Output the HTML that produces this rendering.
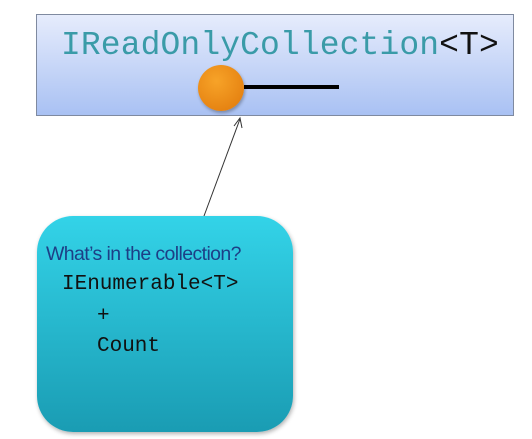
<!DOCTYPE html>
<html><head><style>
body{margin:0;width:532px;height:439px;background:#fff;position:relative;overflow:hidden;font-family:"Liberation Sans",sans-serif}
.top{position:absolute;left:36px;top:14px;width:478px;height:102px;border:1px solid #7f8aa0;background:linear-gradient(#e6ecfc,#a9c1f3);box-sizing:border-box}
.t1{position:absolute;left:61px;top:26px;font:33px "Liberation Mono",monospace;color:#3a9ba8;white-space:pre;line-height:40px;letter-spacing:0.1px}
.t1 span{color:#111}
.dot{position:absolute;left:198px;top:65px;width:46px;height:46px;border-radius:50%;background:radial-gradient(circle at 40% 35%,#f7a328,#e0780a);box-shadow:1px 2px 3px rgba(0,0,0,.3)}
.bar{position:absolute;left:244px;top:85px;width:95px;height:4px;background:#000}
.box{position:absolute;left:37px;top:216px;width:256px;height:216px;border-radius:36px;background:linear-gradient(#33d3e8,#1a9cb3);box-shadow:1px 2px 4px rgba(0,0,0,.3)}
.m{position:absolute;font-family:"Liberation Mono",monospace;color:#111;white-space:pre}
</style></head><body>
<div class="top"></div>
<div class="t1">IReadOnlyCollection<span>&lt;T&gt;</span></div>
<div class="bar"></div>
<div class="dot"></div>
<svg style="position:absolute;left:0;top:0" width="532" height="439"><line x1="204" y1="216" x2="240" y2="119" stroke="#333" stroke-width="1"/><path d="M234 126 L240 118 L242 128" fill="none" stroke="#333" stroke-width="1"/></svg>
<div class="box"></div>
<div style="position:absolute;left:46px;top:243px;font-size:19.5px;color:#1d3f86;letter-spacing:-0.6px">What’s in the collection?</div>
<div class="m" style="left:62px;top:273px;font-size:21px">IEnumerable&lt;T&gt;</div>
<div class="m" style="left:97px;top:305px;font-size:21px">+</div>
<div class="m" style="left:97px;top:335px;font-size:21px">Count</div>
</body></html>
